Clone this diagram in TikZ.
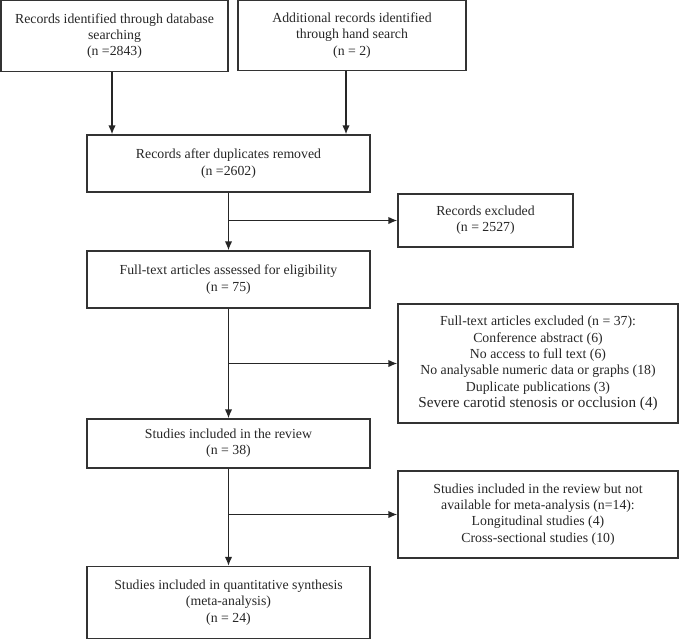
\documentclass[tikz,border=0pt]{standalone}
\usepackage{fontspec}
\setmainfont{Liberation Serif}
\usepackage{tikz}
\usetikzlibrary{shapes,arrows.meta,calc}
\tikzstyle{tsText} = [ 
    text=black!85, 
    font=\fontsize{13.8}{16.3}\selectfont
]
\tikzstyle{tsWraptext} = [ 
    tsText, 
    text centered, 
    align=center
]
\tikzstyle{tsBox} = [ 
    rectangle,
    tsWraptext,               
    draw=black!80,
    line width=1.4pt,
    inner sep=0pt]
\tikzstyle{tsArrow} = [ 
    -{Latex[length=9pt,width=7.5pt]},
    draw=black!85,
    line width=1.4pt]

\begin{document}
\begin{tikzpicture} [x=1pt, y=-1pt]
        \useasboundingbox (0,0) rectangle (680,640);
    
        % Identification
        \node[  tsBox, 
                minimum width=227pt,
                minimum height=71pt] (dbsearch) at (114.5,36) {Records identified through database\\searching\\(n =2843)};
    
        \node[  tsBox, 
                minimum width=228pt,
                minimum height=70pt] (handsearch) at (352,35.5) {Additional records identified\\through hand search\\(n = 2)};
    
        % Screening
        \node[  tsBox, 
                minimum width=283pt,
                minimum height=57pt] (dedup) at (228.5,163.5) {Records after duplicates removed\\(n =2602)};
    
        \node[  tsBox, 
                minimum width=175pt,
                minimum height=53pt] (recexcl) at (485.5,220.5) {Records excluded\\(n = 2527)};
    
        % Eligibility
        \node[  tsBox, 
                minimum width=283pt,
                minimum height=57pt] (fulltext) at (228.5,279.5) {Full-text articles assessed for eligibility\\(n = 75)};
    
        \node[  tsBox, 
                minimum width=280pt,
                minimum height=119pt] (ftexcl) at (538,363.5) {Full-text articles excluded (n = 37):\\Conference abstract (6)\\No access to full text (6)\\No analysable numeric data or graphs (18)\\Duplicate publications (3)\\{\fontsize{15.2}{16.3}\selectfont Severe carotid stenosis or occlusion (4)}};
    
        % Included
        \node[  tsBox, 
                minimum width=283pt,
                minimum height=49pt] (review) at (228.5,443.5) {Studies included in the review\\(n = 38)};
    
        \node[  tsBox, 
                minimum width=280pt,
                minimum height=87pt] (nometa) at (538,514.5) {Studies included in the review but not\\available for meta-analysis (n=14):\\Longitudinal studies (4)\\Cross-sectional studies (10)};
    
        \node[  tsBox, 
                minimum width=283pt,
                minimum height=72pt] (meta) at (228.5,602.5) {Studies included in quantitative synthesis\\(meta-analysis)\\(n = 24)};
    
        % Arrows down the main column
        \draw[tsArrow] ([xshift=-2.5pt]dbsearch.south) -- ([xshift=-2.5pt]dbsearch.south |- dedup.north);
        \draw[tsArrow] ([xshift=-6pt]handsearch.south) -- ([xshift=-6pt]handsearch.south |- dedup.north);
        \draw[tsArrow] (dedup.south) -- (fulltext.north);
        \draw[tsArrow] (fulltext.south) -- (review.north);
        \draw[tsArrow] (review.south) -- (meta.north);
    
        % Arrows out to the exclusion boxes
        \draw[tsArrow] (dedup.south |- recexcl.west) -- (recexcl.west);
        \draw[tsArrow] (fulltext.south |- ftexcl.west) -- (ftexcl.west);
        \draw[tsArrow] (review.south |- nometa.west) -- (nometa.west);
    
    \end{tikzpicture}
\end{document}
